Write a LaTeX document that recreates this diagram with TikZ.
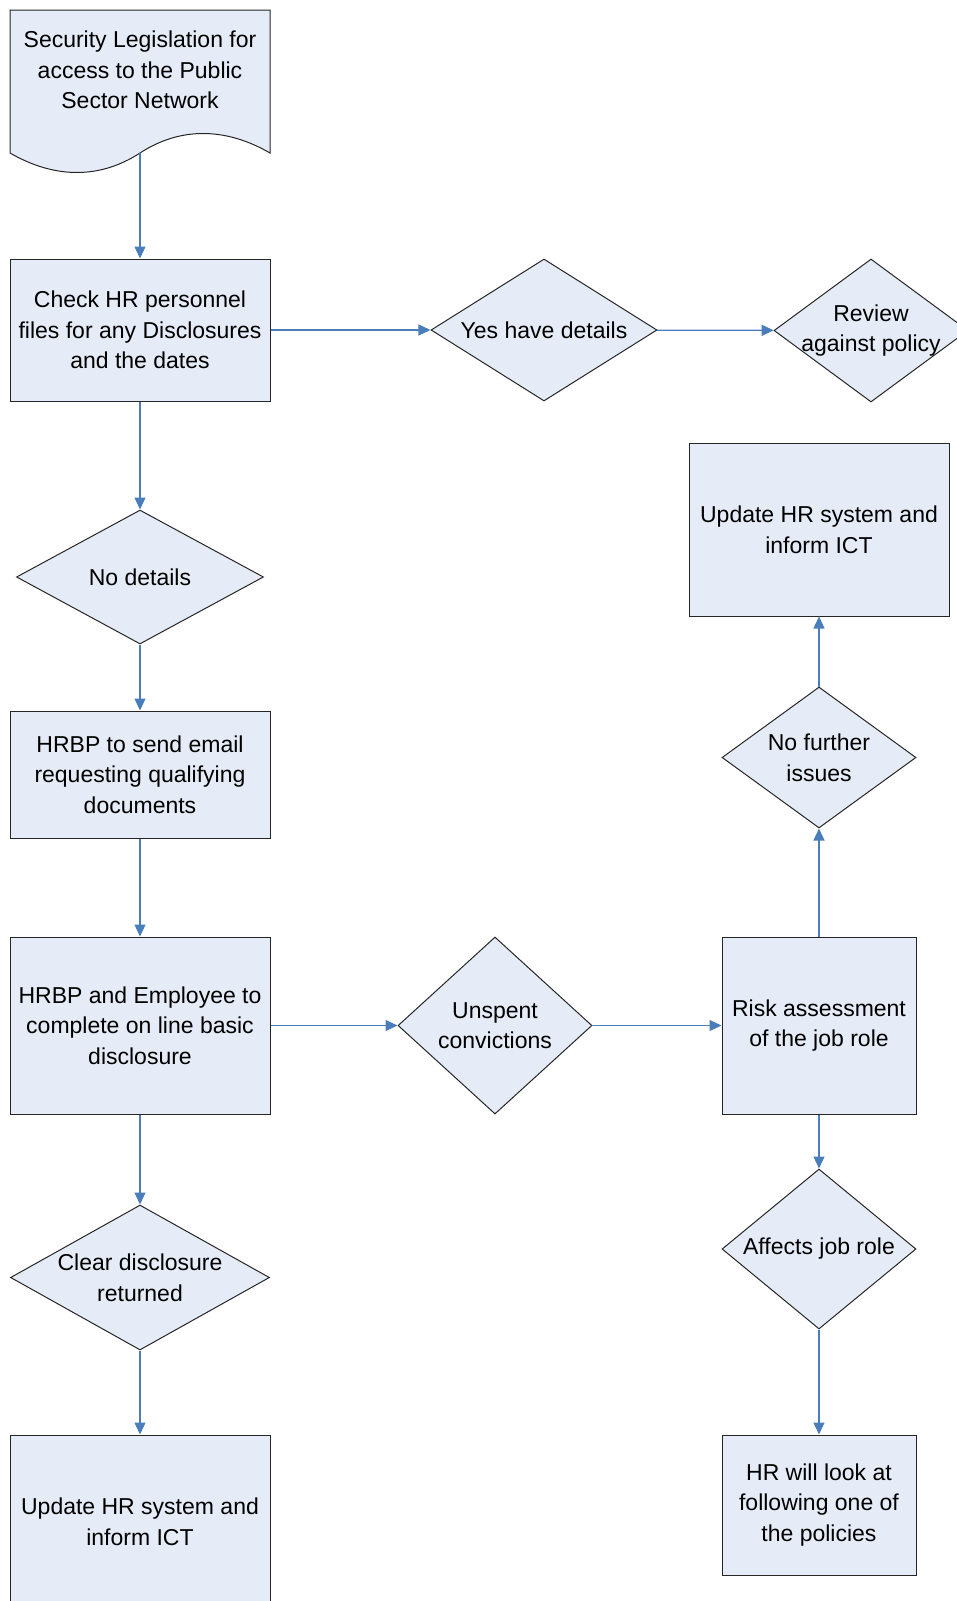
\documentclass[tikz,border=0pt]{standalone}
\usepackage{fontspec}
\setmainfont{Liberation Sans}
\usetikzlibrary{shapes.geometric,arrows.meta}
\definecolor{boxfill}{RGB}{230,236,247}
\definecolor{linkblue}{HTML}{4A7EBB}
\tikzset{
  process/.style 2 args={draw=black!85, fill=boxfill, line width=1pt, minimum width=#1, minimum height=#2, align=center, inner sep=2pt},
  decision/.style 2 args={diamond, draw=black!85, fill=boxfill, line width=1pt, minimum width=#1, minimum height=#2, aspect=1.5, align=center, inner sep=1pt},
  flow/.style={draw=linkblue, line width=1.2pt, -{Triangle[length=12pt,width=11pt]}}
}

\begin{document}
\begin{tikzpicture}[x=1pt, y=-1pt, font=\fontsize{23}{30.6}\selectfont]
    \useasboundingbox (0,0) rectangle (957,1601);
    \clip (0,0) rectangle (957,1601);

    % Legislation document
    \draw[draw=black!85, fill=boxfill, line width=1pt] (10,10) -- (270,10) -- (270,153)
        .. controls (225,127) and (180,127) .. (140,153)
        .. controls (100,179) and (55,179) .. (10,153) -- cycle;
    \node[align=center] (leg) at (140,70) {Security Legislation for\\access to the Public\\Sector Network};
    \coordinate (legfoot) at (140,153);

    % Left column
    \node[process={260pt}{142pt}] (check) at (140,330) {Check HR personnel\\files for any Disclosures\\and the dates};
    \node[decision={247pt}{134pt}] (nodet) at (140,577) {No details};
    \node[process={260pt}{127pt}] (email) at (140,774.5) {HRBP to send email\\requesting qualifying\\documents};
    \node[process={260pt}{177pt}] (employee) at (140,1025.5) {HRBP and Employee to\\complete on line basic\\disclosure};
    \node[decision={259pt}{145pt}, aspect=1.8] (clear) at (140,1277.5) {Clear disclosure\\returned};
    \node[process={260pt}{174pt}] (update) at (140,1522) {Update HR system and\\inform ICT};

    % Top row
    \node[decision={226pt}{142pt}] (yes) at (544,330) {Yes have details};
    \node[decision={194pt}{143pt}] (review) at (871,330.5) {Review\\\makebox[0pt]{against policy}};

    % Middle row and right column
    \node[decision={194pt}{177pt}] (unspent) at (495,1025.5) {Unspent\\convictions};
    \node[process={194pt}{177pt}] (risk) at (819,1025.5) {Risk assessment\\of the job role};
    \node[decision={194pt}{141pt}] (further) at (819,757.5) {No further\\issues};
    \node[process={260pt}{173pt}] (update2) at (819,529.5) {Update HR system and\\inform ICT};
    \node[decision={194pt}{160pt}] (affects) at (819,1249) {Affects job role};
    \node[process={194pt}{140pt}] (look) at (819,1505) {HR will look at\\following one of\\the policies};

    % Connectors
    \draw[flow] (legfoot) -- (check);
    \draw[flow] (check) -- (yes);
    \draw[flow] (yes) -- (review);
    \draw[flow] (check) -- (nodet);
    \draw[flow] (nodet) -- (email);
    \draw[flow] (email) -- (employee);
    \draw[flow] (employee) -- (unspent);
    \draw[flow] (unspent) -- (risk);
    \draw[flow] (risk) -- (further);
    \draw[flow] (further) -- (update2);
    \draw[flow] (risk) -- (affects);
    \draw[flow] (affects) -- (look);
    \draw[flow] (employee) -- (clear);
    \draw[flow] (clear) -- (update);
\end{tikzpicture}
\end{document}
